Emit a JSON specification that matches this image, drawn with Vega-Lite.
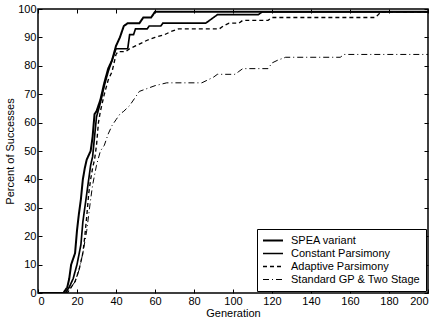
{
  "$schema": "https://vega.github.io/schema/vega-lite/v6.json",
  "width": 390,
  "height": 284,
  "autosize": "none",
  "padding": {"left": 38, "top": 9, "right": 5, "bottom": 29},
  "config": {
    "font": "Liberation Sans",
    "view": {"stroke": "black", "strokeWidth": 1.5},
    "axis": {"grid": false, "domain": false, "tickColor": "black", "tickSize": -4, "labelPadding": 6, "labelFontSize": 11, "labelColor": "black", "titleFontSize": 11, "titleFontWeight": "normal", "titleColor": "black"},
    "legend": {"labelFontSize": 11, "labelColor": "black"}
  },
  "data": {"values": [
    {"g":0,"p":0,"s":"SPEA variant"},{"g":13,"p":0,"s":"SPEA variant"},{"g":15,"p":2,"s":"SPEA variant"},{"g":16,"p":5,"s":"SPEA variant"},{"g":17,"p":10,"s":"SPEA variant"},{"g":18,"p":12,"s":"SPEA variant"},{"g":19,"p":14,"s":"SPEA variant"},{"g":20,"p":22,"s":"SPEA variant"},{"g":21,"p":28,"s":"SPEA variant"},{"g":22,"p":33,"s":"SPEA variant"},{"g":23,"p":40,"s":"SPEA variant"},{"g":24,"p":44,"s":"SPEA variant"},{"g":25,"p":47,"s":"SPEA variant"},{"g":27,"p":50,"s":"SPEA variant"},{"g":28,"p":55,"s":"SPEA variant"},{"g":29,"p":63,"s":"SPEA variant"},{"g":30,"p":64,"s":"SPEA variant"},{"g":32,"p":68,"s":"SPEA variant"},{"g":34,"p":74,"s":"SPEA variant"},{"g":36,"p":79,"s":"SPEA variant"},{"g":38,"p":82,"s":"SPEA variant"},{"g":40,"p":87,"s":"SPEA variant"},{"g":42,"p":90,"s":"SPEA variant"},{"g":44,"p":94,"s":"SPEA variant"},{"g":46,"p":95,"s":"SPEA variant"},{"g":52,"p":95,"s":"SPEA variant"},{"g":54,"p":97,"s":"SPEA variant"},{"g":58,"p":97,"s":"SPEA variant"},{"g":60,"p":99,"s":"SPEA variant"},{"g":200,"p":99,"s":"SPEA variant"},

    {"g":0,"p":0,"s":"Constant Parsimony"},{"g":14,"p":0,"s":"Constant Parsimony"},{"g":16,"p":2,"s":"Constant Parsimony"},{"g":18,"p":5,"s":"Constant Parsimony"},{"g":20,"p":10,"s":"Constant Parsimony"},{"g":22,"p":17,"s":"Constant Parsimony"},{"g":23,"p":25,"s":"Constant Parsimony"},{"g":24,"p":30,"s":"Constant Parsimony"},{"g":25,"p":35,"s":"Constant Parsimony"},{"g":26,"p":40,"s":"Constant Parsimony"},{"g":27,"p":45,"s":"Constant Parsimony"},{"g":28,"p":48,"s":"Constant Parsimony"},{"g":29,"p":55,"s":"Constant Parsimony"},{"g":30,"p":62,"s":"Constant Parsimony"},{"g":32,"p":67,"s":"Constant Parsimony"},{"g":34,"p":73,"s":"Constant Parsimony"},{"g":36,"p":78,"s":"Constant Parsimony"},{"g":38,"p":82,"s":"Constant Parsimony"},{"g":40,"p":86,"s":"Constant Parsimony"},{"g":46,"p":86,"s":"Constant Parsimony"},{"g":47,"p":91,"s":"Constant Parsimony"},{"g":49,"p":91,"s":"Constant Parsimony"},{"g":50,"p":93,"s":"Constant Parsimony"},{"g":56,"p":93,"s":"Constant Parsimony"},{"g":57,"p":94,"s":"Constant Parsimony"},{"g":63,"p":94,"s":"Constant Parsimony"},{"g":64,"p":95,"s":"Constant Parsimony"},{"g":86,"p":95,"s":"Constant Parsimony"},{"g":88,"p":96,"s":"Constant Parsimony"},{"g":92,"p":98,"s":"Constant Parsimony"},{"g":113,"p":98,"s":"Constant Parsimony"},{"g":115,"p":99,"s":"Constant Parsimony"},{"g":200,"p":99,"s":"Constant Parsimony"},

    {"g":0,"p":0,"s":"Adaptive Parsimony"},{"g":15,"p":0,"s":"Adaptive Parsimony"},{"g":17,"p":2,"s":"Adaptive Parsimony"},{"g":19,"p":4,"s":"Adaptive Parsimony"},{"g":21,"p":8,"s":"Adaptive Parsimony"},{"g":23,"p":14,"s":"Adaptive Parsimony"},{"g":24,"p":20,"s":"Adaptive Parsimony"},{"g":25,"p":27,"s":"Adaptive Parsimony"},{"g":26,"p":35,"s":"Adaptive Parsimony"},{"g":27,"p":40,"s":"Adaptive Parsimony"},{"g":28,"p":44,"s":"Adaptive Parsimony"},{"g":29,"p":47,"s":"Adaptive Parsimony"},{"g":30,"p":52,"s":"Adaptive Parsimony"},{"g":31,"p":60,"s":"Adaptive Parsimony"},{"g":32,"p":64,"s":"Adaptive Parsimony"},{"g":34,"p":70,"s":"Adaptive Parsimony"},{"g":36,"p":75,"s":"Adaptive Parsimony"},{"g":38,"p":78,"s":"Adaptive Parsimony"},{"g":40,"p":84,"s":"Adaptive Parsimony"},{"g":41,"p":85,"s":"Adaptive Parsimony"},{"g":45,"p":85,"s":"Adaptive Parsimony"},{"g":47,"p":86,"s":"Adaptive Parsimony"},{"g":50,"p":87,"s":"Adaptive Parsimony"},{"g":53,"p":88,"s":"Adaptive Parsimony"},{"g":56,"p":89,"s":"Adaptive Parsimony"},{"g":60,"p":90,"s":"Adaptive Parsimony"},{"g":65,"p":91,"s":"Adaptive Parsimony"},{"g":68,"p":92,"s":"Adaptive Parsimony"},{"g":72,"p":93,"s":"Adaptive Parsimony"},{"g":93,"p":93,"s":"Adaptive Parsimony"},{"g":95,"p":94,"s":"Adaptive Parsimony"},{"g":98,"p":95,"s":"Adaptive Parsimony"},{"g":103,"p":95,"s":"Adaptive Parsimony"},{"g":105,"p":96,"s":"Adaptive Parsimony"},{"g":118,"p":96,"s":"Adaptive Parsimony"},{"g":120,"p":97,"s":"Adaptive Parsimony"},{"g":173,"p":97,"s":"Adaptive Parsimony"},{"g":176,"p":99,"s":"Adaptive Parsimony"},{"g":200,"p":99,"s":"Adaptive Parsimony"},

    {"g":0,"p":0,"s":"Standard GP & Two Stage"},{"g":15,"p":0,"s":"Standard GP & Two Stage"},{"g":17,"p":2,"s":"Standard GP & Two Stage"},{"g":19,"p":4,"s":"Standard GP & Two Stage"},{"g":21,"p":8,"s":"Standard GP & Two Stage"},{"g":23,"p":14,"s":"Standard GP & Two Stage"},{"g":25,"p":22,"s":"Standard GP & Two Stage"},{"g":27,"p":33,"s":"Standard GP & Two Stage"},{"g":28,"p":38,"s":"Standard GP & Two Stage"},{"g":30,"p":45,"s":"Standard GP & Two Stage"},{"g":32,"p":50,"s":"Standard GP & Two Stage"},{"g":34,"p":52,"s":"Standard GP & Two Stage"},{"g":36,"p":56,"s":"Standard GP & Two Stage"},{"g":38,"p":59,"s":"Standard GP & Two Stage"},{"g":40,"p":61,"s":"Standard GP & Two Stage"},{"g":42,"p":63,"s":"Standard GP & Two Stage"},{"g":44,"p":64,"s":"Standard GP & Two Stage"},{"g":47,"p":66,"s":"Standard GP & Two Stage"},{"g":50,"p":69,"s":"Standard GP & Two Stage"},{"g":52,"p":71,"s":"Standard GP & Two Stage"},{"g":56,"p":72,"s":"Standard GP & Two Stage"},{"g":60,"p":73,"s":"Standard GP & Two Stage"},{"g":66,"p":74,"s":"Standard GP & Two Stage"},{"g":84,"p":74,"s":"Standard GP & Two Stage"},{"g":87,"p":75,"s":"Standard GP & Two Stage"},{"g":90,"p":76,"s":"Standard GP & Two Stage"},{"g":92,"p":77,"s":"Standard GP & Two Stage"},{"g":101,"p":77,"s":"Standard GP & Two Stage"},{"g":103,"p":78,"s":"Standard GP & Two Stage"},{"g":105,"p":79,"s":"Standard GP & Two Stage"},{"g":118,"p":79,"s":"Standard GP & Two Stage"},{"g":120,"p":81,"s":"Standard GP & Two Stage"},{"g":123,"p":82,"s":"Standard GP & Two Stage"},{"g":127,"p":83,"s":"Standard GP & Two Stage"},{"g":155,"p":83,"s":"Standard GP & Two Stage"},{"g":157,"p":84,"s":"Standard GP & Two Stage"},{"g":200,"p":84,"s":"Standard GP & Two Stage"}
  ]},
  "layer": [
    {
      "mark": {"type": "line", "color": "black", "clip": true},
      "encoding": {
        "x": {"field": "g", "type": "quantitative", "scale": {"domain": [0, 200], "nice": false}, "axis": {"title": "Generation", "values": [0,20,40,60,80,100,120,140,160,180,200], "titlePadding": 1}},
        "y": {"field": "p", "type": "quantitative", "scale": {"domain": [0, 100], "nice": false}, "axis": {"title": "Percent of Successes", "values": [0,10,20,30,40,50,60,70,80,90,100], "titlePadding": 2}},
        "strokeDash": {"field": "s", "type": "nominal", "scale": {"domain": ["SPEA variant", "Constant Parsimony", "Adaptive Parsimony", "Standard GP & Two Stage"], "range": [[1,0],[1,0],[4,3],[6,3,1,3]]},
          "legend": {"title": null, "orient": "bottom-right", "offset": 2, "strokeColor": "black", "fillColor": "white", "padding": 5, "rowPadding": 0, "symbolType": "stroke", "symbolSize": 400, "clipHeight": 13, "symbolStrokeColor": "black", "labelOffset": 7}},
        "strokeWidth": {"field": "s", "type": "nominal", "scale": {"domain": ["SPEA variant", "Constant Parsimony", "Adaptive Parsimony", "Standard GP & Two Stage"], "range": [2, 1, 1, 1]}, "legend": {"title": null, "orient": "bottom-right"}},
        "detail": {"field": "s", "type": "nominal"}
      }
    },
    {
      "mark": {"type": "line", "opacity": 0},
      "encoding": {
        "x": {"field": "g", "type": "quantitative", "scale": {"domain": [0, 200], "nice": false}, "axis": {"orient": "top", "labels": false, "title": null, "values": [0,20,40,60,80,100,120,140,160,180,200]}},
        "y": {"field": "p", "type": "quantitative", "scale": {"domain": [0, 100], "nice": false}, "axis": {"orient": "right", "labels": false, "title": null, "values": [0,10,20,30,40,50,60,70,80,90,100]}},
        "detail": {"field": "s", "type": "nominal"}
      }
    }
  ],
  "resolve": {"axis": {"x": "independent", "y": "independent"}}
}
